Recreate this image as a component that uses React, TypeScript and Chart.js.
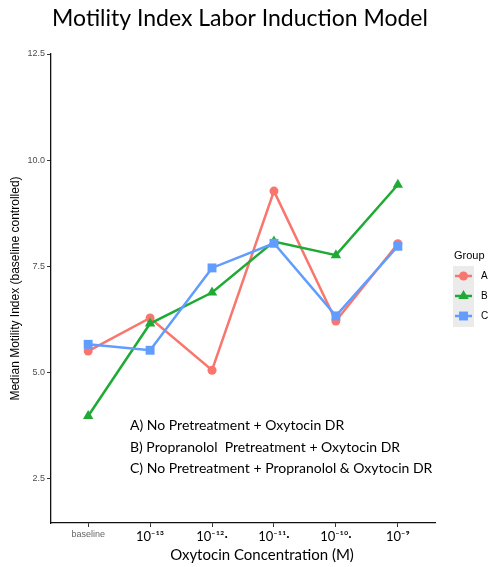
import React, { useEffect, useRef } from "react";
import { Chart, registerables } from "chart.js";

Chart.register(...registerables);

// ---------- data ----------
const categories = ["baseline", "10⁻¹³", "10⁻¹²·", "10⁻¹¹·", "10⁻¹⁰·", "10⁻⁹"];
const groupA = [5.5, 6.28, 5.05, 9.27, 6.21, 8.03];
const groupB = [3.97, 6.15, 6.88, 8.08, 7.76, 9.42];
const groupC = [5.66, 5.52, 7.46, 8.04, 6.33, 7.97];
const groupNames = ["A", "B", "C"];
const yTicks = [2.5, 5.0, 7.5, 10.0, 12.5];
const notes = [
  "A) No Pretreatment + Oxytocin DR",
  "B) Propranolol  Pretreatment + Oxytocin DR",
  "C) No Pretreatment + Propranolol & Oxytocin DR",
];
const chartTitle = "Motility Index Labor Induction Model";
const xTitle = "Oxytocin Concentration (M)";
const yTitle = "Median Motility Index (baseline controlled)";
const legendTitle = "Group";

const COLORS = ["#F8766D", "#1FAA35", "#619CFF"];
const STYLES = ["circle", "triangle", "rect"];
const RADII = [4.5, 6, 6.3];

function drawMarker(ctx: CanvasRenderingContext2D, style: string, x: number, y: number, r: number) {
  ctx.beginPath();
  if (style === "circle") {
    ctx.arc(x, y, r, 0, Math.PI * 2);
  } else if (style === "triangle") {
    ctx.moveTo(x, y - r);
    ctx.lineTo(x + r * Math.sin(Math.PI / 3), y + r * 0.5);
    ctx.lineTo(x - r * Math.sin(Math.PI / 3), y + r * 0.5);
    ctx.closePath();
  } else {
    const s = r / Math.SQRT2;
    ctx.rect(x - s, y - s, 2 * s, 2 * s);
  }
  ctx.fill();
}

const overlayPlugin = {
  id: "overlay",
  afterDraw(chart: any) {
    const { ctx, chartArea } = chart;
    ctx.save();
    // annotation notes
    ctx.fillStyle = "#000";
    ctx.font = "14px Lato";
    ctx.textAlign = "left";
    ctx.textBaseline = "middle";
    const noteY = [425, 447, 468];
    notes.forEach((t, i) => ctx.fillText(t, chartArea.left + 79, noteY[i]));

    // x axis title
    ctx.font = "15px Lato";
    ctx.textAlign = "center";
    ctx.fillText(xTitle, 262, 555);

    // legend
    const lx = chartArea.right + 18;
    ctx.font = "11px 'Liberation Sans'";
    ctx.textAlign = "left";
    ctx.fillStyle = "#000";
    ctx.fillText(legendTitle, lx + 1, 256);
    ctx.fillStyle = "#EBEBEB";
    ctx.fillRect(lx, 266, 21, 61);
    chart.data.datasets.forEach((ds: any, i: number) => {
      const cy = 276 + i * 20;
      ctx.strokeStyle = ds.borderColor;
      ctx.lineWidth = 2.5;
      ctx.beginPath();
      ctx.moveTo(lx + 2, cy);
      ctx.lineTo(lx + 19, cy);
      ctx.stroke();
      ctx.fillStyle = ds.backgroundColor;
      drawMarker(ctx, ds.pointStyle, lx + 10.5, cy, ds.pointRadius);
      ctx.fillStyle = "#000";
      ctx.font = "10px 'Liberation Sans'";
      ctx.fillText(ds.label, lx + 28, cy + 0.5);
    });
    ctx.restore();
  },
};

export default function App() {
  const ref = useRef<HTMLCanvasElement | null>(null);

  useEffect(() => {
    if (!ref.current) return;
    const series = [groupA, groupB, groupC];
    const chart = new Chart(ref.current, {
      type: "line",
      data: {
        datasets: series.map((vals, i) => ({
          label: groupNames[i],
          data: vals.map((v, j) => ({ x: j, y: v })),
          borderColor: COLORS[i],
          backgroundColor: COLORS[i],
          borderWidth: 2.5,
          pointStyle: STYLES[i],
          pointRadius: RADII[i],
          pointBorderWidth: 0,
          pointHoverRadius: RADII[i],
          order: 3 - i,
          tension: 0,
        })),
      },
      options: {
        responsive: false,
        animation: false,
        events: [],
        layout: { padding: { left: 0, right: 13, top: 0, bottom: 0 } },
        plugins: {
          legend: { display: false },
          tooltip: { enabled: false },
          title: {
            display: true,
            text: chartTitle,
            color: "#000",
            font: { family: "Lato", size: 23, weight: "normal", lineHeight: 1.2 },
            padding: { top: 4.5, bottom: 21.9 },
          },
        },
        scales: {
          x: {
            type: "linear",
            min: -0.6,
            max: 5.6,
            afterBuildTicks: (s: any) => {
              s.ticks = categories.map((_, i) => ({ value: i }));
            },
            afterFit: (s: any) => {
              s.height = 44;
            },
            grid: { display: true, drawOnChartArea: false, drawTicks: true, tickLength: 4, color: "#333" },
            border: { display: true, color: "#111", width: 1.3 },
            ticks: {
              autoSkip: false,
              maxRotation: 0,
              padding: 2,
              callback: (v: any) => categories[v as number],
              color: (c: any) => (c.index === 0 ? "#666" : "#000"),
              font: (c: any) =>
                c.index === 0 ? { family: "Liberation Sans", size: 9 } : { family: "Lato", size: 13 },
            },
          },
          y: {
            type: "linear",
            min: 1.45,
            max: 12.5,
            afterBuildTicks: (s: any) => {
              s.ticks = yTicks.map((v) => ({ value: v }));
            },
            afterFit: (s: any) => {
              s.width = 51;
            },
            grid: { display: true, drawOnChartArea: false, drawTicks: true, tickLength: 4, color: "#333" },
            border: { display: true, color: "#111", width: 1.3 },
            ticks: {
              padding: 2,
              color: "#4D4D4D",
              font: { family: "Liberation Sans", size: 9 },
              callback: (v: any) => Number(v).toFixed(1),
            },
            title: {
              display: true,
              text: yTitle,
              color: "#000",
              font: { family: "Liberation Sans", size: 12, lineHeight: 1.2 },
              padding: { top: 8.8, bottom: 0 },
            },
          },
          y2: {
            type: "linear",
            position: "right",
            display: true,
            grid: { display: false },
            border: { display: false },
            ticks: { display: false },
            afterFit: (s: any) => {
              s.width = 45;
            },
          },
        },
      },
      plugins: [overlayPlugin],
    } as any);
    return () => chart.destroy();
  }, []);

  return (
    <div style={{ position: "absolute", left: 0, top: 0, width: 493, height: 567, background: "#fff" }}>
      <canvas ref={ref} width={493} height={567} style={{ display: "block" }} />
    </div>
  );
}
